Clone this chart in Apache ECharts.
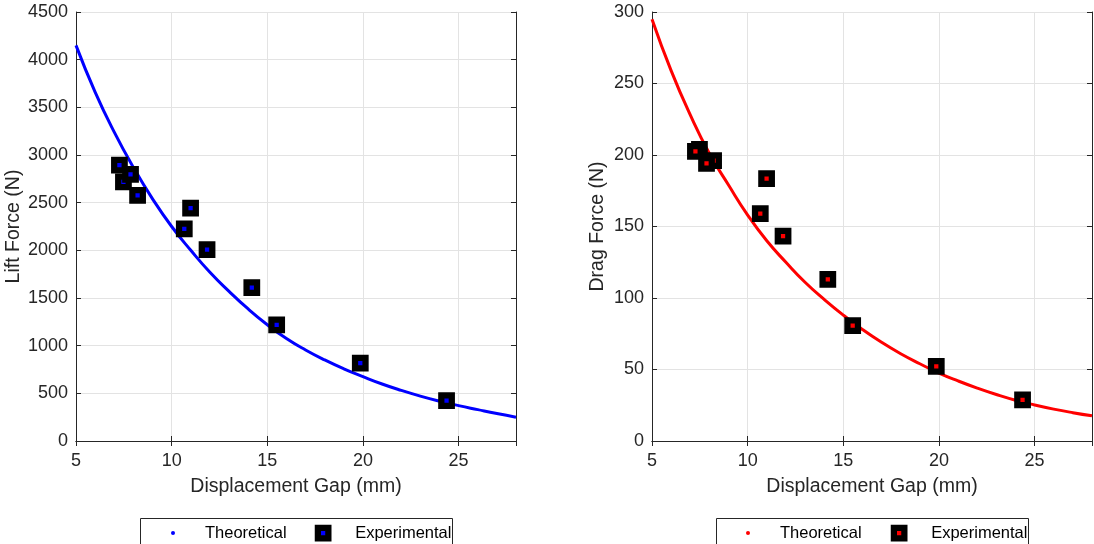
<!DOCTYPE html>
<html>
<head>
<meta charset="utf-8">
<script src="https://cdn.jsdelivr.net/npm/echarts@6/dist/echarts.min.js"></script>
<style>
html,body{margin:0;padding:0;background:#fff;}
#chart{width:1094px;height:544px;}
</style>
</head>
<body>
<div id="chart"></div>
<script>
// ---- data ----
const gapExp   = [7.48, 7.27, 8.22, 7.85, 10.66, 10.99, 11.85, 14.19, 15.49, 19.86, 24.37];
const liftExp  = [2718, 2894, 2577, 2796, 2225, 2444, 2007, 1609, 1217, 818, 423];
const dragExp  = [204, 202.5, 196, 194.2, 159, 183.4, 143.3, 113, 80.6, 52.1, 28.7];

const gapTheory  = [5, 6, 7, 8, 9, 10, 11, 12, 13, 14, 15, 16, 17, 18, 19, 20, 21, 22, 23, 24, 25, 26, 27, 28];
const liftTheory = [4150, 3660, 3240, 2870, 2540, 2250, 2000, 1770, 1570, 1385, 1220, 1075, 955, 850, 757, 675, 598, 531, 471, 418, 371, 329, 288, 250];
const dragTheory = [295, 259, 228, 201, 179, 158, 140, 125, 111, 99, 88, 78, 69, 61, 54, 47.5, 42, 37, 32.5, 28.5, 25.2, 22.3, 19.8, 17.6];

const legendNames = ['Theoretical', 'Experimental'];
const yTitles = ['Lift Force (N)', 'Drag Force (N)'];
const xTitle = 'Displacement Gap (mm)';

// ---- build ----
const FONT = "'Liberation Sans', Arial, Helvetica, sans-serif";
const AX = '#262626';
const GRIDC = '#e3e3e3';
const zip = (xs, ys) => xs.map((x, i) => [x, ys[i]]);
const plain = v => String(v);

function xAxes(gi) {
  const base = {gridIndex: gi, type: 'value', min: 5, max: 28, interval: 5,
    axisLine: {show: true, lineStyle: {color: AX, width: 1}},
    axisTick: {show: true, inside: true, length: 5, lineStyle: {color: AX}}};
  return [
    Object.assign({}, base, {position: 'bottom', name: xTitle, nameLocation: 'middle', nameGap: 36,
      nameTextStyle: {fontFamily: FONT, fontSize: 19.5, color: AX},
      axisLabel: {fontFamily: FONT, fontSize: 18, color: AX, margin: 11, showMaxLabel: false, formatter: plain},
      splitLine: {show: true, lineStyle: {color: GRIDC, width: 1}}}),
    Object.assign({}, base, {position: 'top', axisLabel: {show: false}, splitLine: {show: false}})
  ];
}
function yAxes(gi, max, interval, title, gap) {
  const base = {gridIndex: gi, type: 'value', min: 0, max: max, interval: interval,
    axisLine: {show: true, lineStyle: {color: AX, width: 1}},
    axisTick: {show: true, inside: true, length: 5, lineStyle: {color: AX}}};
  return [
    Object.assign({}, base, {position: 'left', name: title, nameLocation: 'middle', nameGap: gap, nameRotate: 90,
      nameTextStyle: {fontFamily: FONT, fontSize: 19.5, color: AX},
      axisLabel: {fontFamily: FONT, fontSize: 18, color: AX, margin: 8, formatter: plain},
      splitLine: {show: true, lineStyle: {color: GRIDC, width: 1}}}),
    Object.assign({}, base, {position: 'right', axisLabel: {show: false}, splitLine: {show: false}})
  ];
}

function legendItem(name, left, top, icon, size, color, pad, border) {
  return {
    data: [{name: name, icon: icon}], left: left, top: top, padding: 0, orient: 'horizontal',
    itemWidth: size, itemHeight: size, selectedMode: false, z: 10,
    itemStyle: border ? {color: color, borderColor: '#000', borderWidth: 6.25} : {color: color, borderWidth: 0},
    formatter: n => n.trim(),
    textStyle: {fontFamily: FONT, fontSize: 16.5, color: '#000', lineHeight: 20, padding: [0, 0, 0, pad]}
  };
}

function legendBox(x) {
  return {type: 'rect', z: 100, silent: true,
    shape: {x: x, y: 518.5, width: 312, height: 40},
    style: {fill: 'rgba(0,0,0,0)', stroke: '#262626', lineWidth: 1}};
}

const option = {
  animation: false,
  backgroundColor: '#fff',
  grid: [
    {left: 76, top: 12, width: 440, height: 429},
    {left: 652, top: 12, width: 440, height: 429}
  ],
  xAxis: [].concat(xAxes(0), xAxes(1)),
  yAxis: [].concat(yAxes(0, 4500, 500, yTitles[0], 52), yAxes(1, 300, 50, yTitles[1], 44)),
  graphic: {elements: [legendBox(140.5), legendBox(716.5)]},
  legend: [
    legendItem(legendNames[0], 171, 523, 'circle', 4, '#0000ff', 25, false),
    legendItem(legendNames[1], 314.75, 523, 'rect', 10.5, '#0000ff', 21.75, true),
    legendItem(legendNames[0] + ' ', 746, 523, 'circle', 4, '#ff0000', 25, false),
    legendItem(legendNames[1] + ' ', 890.75, 523, 'rect', 10.5, '#ff0000', 21.75, true)
  ],
  series: [
    {name: legendNames[0], type: 'line', xAxisIndex: 0, yAxisIndex: 0, data: zip(gapTheory, liftTheory),
      smooth: 0.5, showSymbol: false, symbol: 'circle', silent: true,
      itemStyle: {color: '#0000ff'}, lineStyle: {color: '#0000ff', width: 3}, z: 2},
    {name: legendNames[1], type: 'scatter', xAxisIndex: 0, yAxisIndex: 0, data: zip(gapExp, liftExp),
      symbol: 'rect', symbolSize: 10.5, silent: true,
      itemStyle: {color: '#0000ff', borderColor: '#000', borderWidth: 6.25, opacity: 1}, z: 3},
    {name: legendNames[0] + ' ', type: 'line', xAxisIndex: 2, yAxisIndex: 2, data: zip(gapTheory, dragTheory),
      smooth: 0.5, showSymbol: false, symbol: 'circle', silent: true,
      itemStyle: {color: '#ff0000'}, lineStyle: {color: '#ff0000', width: 3}, z: 2},
    {name: legendNames[1] + ' ', type: 'scatter', xAxisIndex: 2, yAxisIndex: 2, data: zip(gapExp, dragExp),
      symbol: 'rect', symbolSize: 10.5, silent: true,
      itemStyle: {color: '#ff0000', borderColor: '#000', borderWidth: 6.25, opacity: 1}, z: 3}
  ]
};
const chart = echarts.init(document.getElementById('chart'), null, {renderer: 'canvas'});
chart.setOption(option);
</script>
</body>
</html>
